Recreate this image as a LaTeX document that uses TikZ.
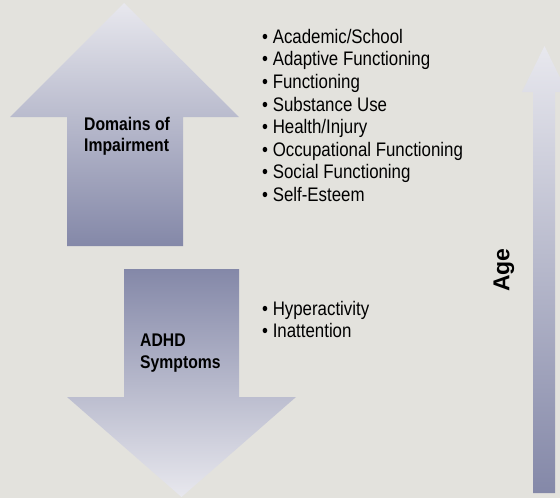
\documentclass[tikz,border=0pt]{standalone}
\usepackage{fontspec}
\setmainfont[FakeStretch=0.86]{Liberation Sans}
\newfontfamily\agefont{Liberation Sans}
\begin{document}
\begin{tikzpicture}[x=1pt,y=-1pt,
  item/.style={anchor=base west,inner sep=0pt,font=\fontsize{19.6}{22}\selectfont},
  lbl/.style={anchor=base west,inner sep=0pt,font=\bfseries\fontsize{18.3}{20}\selectfont}]
\definecolor{bg}{HTML}{E3E2DD}
\definecolor{lite}{HTML}{E8E8EE}
\definecolor{dark}{HTML}{8488A8}
\useasboundingbox (0,0) rectangle (560,498);
\fill[bg] (0,0) rectangle (560,498);
\clip (0,0) rectangle (560,498);
% arrows
\shade[top color=lite,bottom color=dark] (124,3) -- (239,117) -- (183,117) -- (183,246) -- (67,246) -- (67,117) -- (10,117) -- cycle;
\shade[top color=dark,bottom color=lite] (124,269) -- (239,269) -- (239,397) -- (296,397) -- (181.5,497) -- (67,397) -- (124,397) -- cycle;
\shade[top color=lite,bottom color=dark] (544.5,46) -- (567,92) -- (555,92) -- (555,493) -- (533,493) -- (533,92) -- (522,92) -- cycle;
% labels
\node[lbl] (d1) at (84,130.7) {Domains of};
\node[lbl] (d2) at (84,151.7) {Impairment};
\node[lbl] (s1) at (140,346.7) {ADHD};
\node[lbl] (s2) at (140,368) {Symptoms};
\node[font=\agefont\bfseries\fontsize{23}{26}\selectfont,rotate=90,inner sep=0pt] (age) at (504,270) {Age};
% lists
\foreach \t [count=\i from 0] in {Academic/School,Adaptive Functioning,Functioning,Substance Use,Health/Injury,Occupational Functioning,Social Functioning,Self-Esteem}
  \node[item] (a\i) at (262,43.3+22.6*\i) {\textbullet\ \t};
\node[item] (h1) at (262,315) {\textbullet\ Hyperactivity};
\node[item] (h2) at (262,337.6) {\textbullet\ Inattention};
\end{tikzpicture}
\end{document}
